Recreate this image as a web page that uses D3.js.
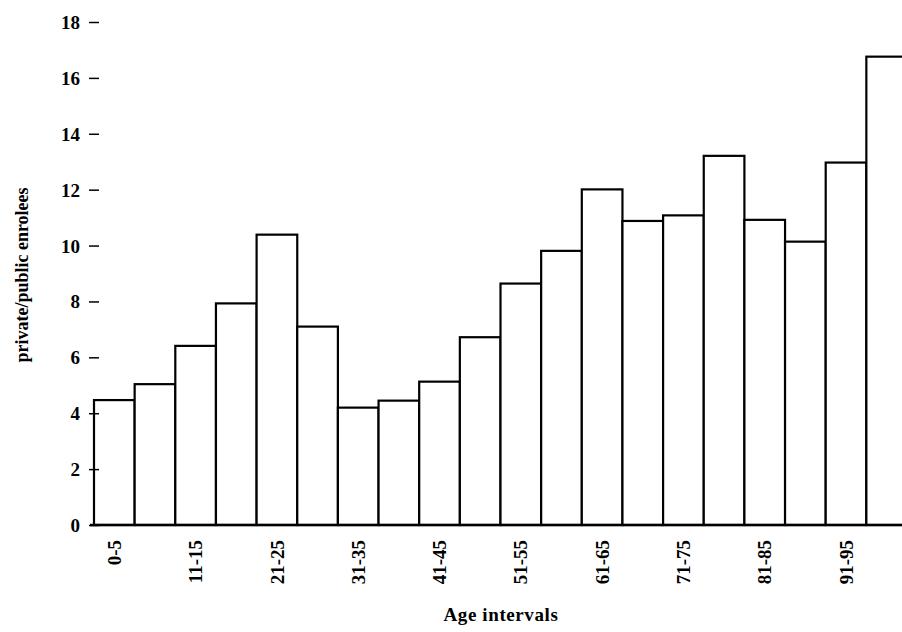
<!DOCTYPE html>
<html>
<head>
<meta charset="utf-8">
<script src="https://cdn.jsdelivr.net/npm/d3@7"></script>
<style>
  html, body { margin: 0; padding: 0; background: #fff; }
  svg { display: block; }
  text { font-family: "Liberation Serif", "DejaVu Serif", serif; font-weight: bold; fill: #000; }
</style>
</head>
<body>
<svg id="chart" width="902" height="632"></svg>
<script>
const categories = ["0-5","6-10","11-15","16-20","21-25","26-30","31-35","36-40","41-45","46-50",
                    "51-55","56-60","61-65","66-70","71-75","76-80","81-85","86-90","91-95","96-100"];
const ratios = [4.47, 5.04, 6.41, 7.93, 10.39, 7.10, 4.20, 4.45, 5.13, 6.72,
                8.64, 9.81, 12.01, 10.88, 11.08, 13.21, 10.92, 10.14, 12.97, 16.76];
const shownLabels = ["0-5","11-15","21-25","31-35","41-45","51-55","61-65","71-75","81-85","91-95"];
const yTicks = [0, 2, 4, 6, 8, 10, 12, 14, 16, 18];
const yTitle = "private/public enrolees";
const xTitle = "Age intervals";

const svg = d3.select("#chart");

const x = d3.scaleBand().domain(categories).range([94, 907]).padding(0);
const y = d3.scaleLinear().domain([0, 18]).range([525, 22]);

// bars
svg.append("g").selectAll("rect").data(ratios).join("rect")
  .attr("x", (d, i) => x(categories[i]))
  .attr("y", d => y(d))
  .attr("width", x.bandwidth())
  .attr("height", d => y(0) - y(d))
  .attr("fill", "#fff")
  .attr("stroke", "#000")
  .attr("stroke-width", 2.2);

// baseline
svg.append("line")
  .attr("x1", 90).attr("x2", 902)
  .attr("y1", y(0)).attr("y2", y(0))
  .attr("stroke", "#000").attr("stroke-width", 2.4);

// y axis
const yAxis = svg.append("g")
  .attr("transform", "translate(99,0)")
  .call(d3.axisLeft(y).tickValues(yTicks).tickSize(10).tickPadding(9).tickFormat(d3.format("d")));
yAxis.select(".domain").remove();
yAxis.selectAll(".tick line").attr("stroke", "#000").attr("stroke-width", 1.5);
yAxis.selectAll(".tick text").style("font-size", "19px").attr("dy", "0.34em");

// x axis
const xAxis = svg.append("g")
  .attr("transform", `translate(0,${y(0)})`)
  .call(d3.axisBottom(x).tickValues(shownLabels).tickSize(0).tickPadding(0));
xAxis.select(".domain").remove();
xAxis.selectAll(".tick text")
  .style("font-size", "19px")
  .attr("text-anchor", "end")
  .attr("transform", "translate(0,15) rotate(-90)")
  .attr("x", 0).attr("y", 0)
  .attr("dy", "0.35em");

// titles
svg.append("text")
  .attr("transform", "translate(28,275) rotate(-90)")
  .attr("text-anchor", "middle")
  .style("font-size", "18px")
  .text(yTitle);

svg.append("text")
  .attr("x", 501).attr("y", 621)
  .attr("text-anchor", "middle")
  .style("font-size", "19px")
  .style("letter-spacing", "0.6px")
  .text(xTitle);
</script>
</body>
</html>
